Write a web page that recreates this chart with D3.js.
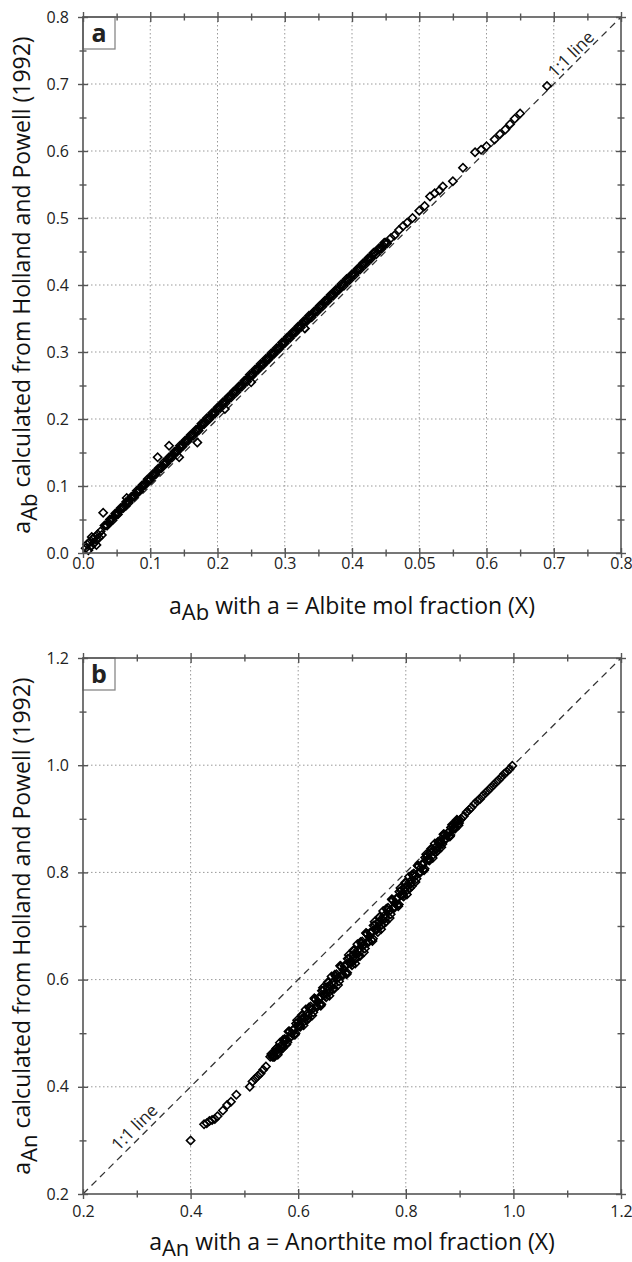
<!DOCTYPE html>
<html>
<head>
<meta charset="utf-8">
<script src="https://cdn.jsdelivr.net/npm/d3@7"></script>
<style>
  body { margin: 0; background: #fff; }
  text { font-family: 'Open Sans', sans-serif; }
</style>
</head>
<body>
<script>

var width  = 632;
var height = 1262;

// ---- panel a data ----
var majorA   = [0, 0.1, 0.2, 0.3, 0.4, 0.5, 0.6, 0.7, 0.8];
var minorA   = [0.05, 0.15, 0.25, 0.35, 0.45, 0.55, 0.65, 0.75];
var xLabelsA = ['0.0', '0.1', '0.2', '0.3', '0.4', '0.05', '0.6', '0.7', '0.8'];
var yLabelsA = ['0.0', '0.1', '0.2', '0.3', '0.4', '0.5', '0.6', '0.7', '0.8'];

var pointsA = [
  [0.004,0.007],[0.006,0.013],[0.008,0.004],[0.010,0.016],[0.012,0.010],[0.013,0.024],
  [0.014,0.021],[0.016,0.014],[0.018,0.024],[0.020,0.019],[0.020,0.012],[0.022,0.028],
  [0.024,0.023],[0.026,0.032],[0.028,0.027],[0.030,0.060],
  [0.032,0.041],[0.036,0.041],[0.040,0.050],[0.044,0.049],[0.048,0.059],[0.052,0.058],
  [0.056,0.067],[0.060,0.067],[0.064,0.076],[0.068,0.075],[0.072,0.084],[0.076,0.084],
  [0.080,0.093],[0.084,0.092],[0.088,0.101],[0.092,0.101],[0.096,0.110],[0.100,0.109],
  [0.104,0.118],[0.108,0.117],[0.112,0.126],[0.116,0.126],[0.120,0.135],[0.124,0.134],
  [0.128,0.143],[0.132,0.142],[0.136,0.151],[0.140,0.151],[0.144,0.160],[0.148,0.159],
  [0.152,0.168],[0.156,0.167],[0.160,0.176],[0.164,0.175],[0.168,0.184],[0.172,0.183],
  [0.176,0.193],[0.180,0.192],[0.184,0.201],[0.188,0.200],[0.192,0.209],[0.196,0.208],
  [0.200,0.217],[0.204,0.216],[0.208,0.225],[0.212,0.224],[0.216,0.233],[0.220,0.232],
  [0.224,0.241],[0.228,0.240],[0.232,0.249],[0.236,0.248],[0.240,0.257],[0.244,0.256],
  [0.248,0.266],[0.252,0.265],[0.256,0.274],[0.260,0.273],[0.264,0.282],[0.268,0.281],
  [0.272,0.290],[0.276,0.289],[0.280,0.298],[0.284,0.297],[0.288,0.306],[0.292,0.305],
  [0.296,0.314],[0.300,0.313],[0.304,0.322],[0.308,0.321],[0.312,0.330],[0.316,0.329],
  [0.320,0.338],[0.324,0.337],[0.328,0.346],[0.332,0.345],[0.336,0.354],[0.340,0.352],
  [0.344,0.361],[0.348,0.360],[0.352,0.369],[0.356,0.368],[0.360,0.377],[0.364,0.376],
  [0.368,0.385],[0.372,0.384],[0.376,0.393],[0.380,0.392],[0.384,0.401],[0.388,0.399],
  [0.392,0.409],[0.396,0.407],[0.400,0.416],[0.404,0.415],[0.408,0.424],[0.412,0.423],
  [0.416,0.432],[0.420,0.431],[0.424,0.440],[0.428,0.439],[0.432,0.448],[0.436,0.446],
  [0.440,0.455],[0.444,0.454],[0.448,0.463],[0.452,0.462],
  [0.034,0.041],[0.038,0.045],[0.042,0.050],[0.046,0.054],[0.050,0.059],[0.054,0.063],
  [0.058,0.067],[0.062,0.071],[0.066,0.076],[0.070,0.080],[0.074,0.084],[0.078,0.088],
  [0.082,0.092],[0.086,0.097],[0.090,0.101],[0.094,0.105],[0.098,0.109],[0.102,0.114],
  [0.106,0.118],[0.110,0.122],[0.114,0.126],[0.118,0.130],[0.122,0.134],[0.126,0.139],
  [0.130,0.143],[0.134,0.147],[0.138,0.151],[0.142,0.155],[0.146,0.159],[0.150,0.164],
  [0.154,0.168],[0.158,0.172],[0.162,0.176],[0.166,0.180],[0.170,0.184],[0.174,0.188],
  [0.178,0.192],[0.182,0.196],[0.186,0.200],[0.190,0.204],[0.194,0.208],[0.198,0.213],
  [0.202,0.217],[0.206,0.221],[0.210,0.225],[0.214,0.229],[0.218,0.233],[0.222,0.237],
  [0.226,0.241],[0.230,0.245],[0.234,0.249],[0.238,0.253],[0.242,0.257],[0.246,0.261],
  [0.250,0.265],[0.254,0.269],[0.258,0.273],[0.262,0.277],[0.266,0.281],[0.270,0.285],
  [0.274,0.289],[0.278,0.293],[0.282,0.297],[0.286,0.301],[0.290,0.305],[0.294,0.309],
  [0.298,0.313],[0.302,0.318],[0.306,0.322],[0.310,0.326],[0.314,0.330],[0.318,0.334],
  [0.322,0.338],[0.326,0.342],[0.330,0.346],[0.334,0.349],[0.338,0.353],[0.342,0.357],
  [0.346,0.361],[0.350,0.365],[0.354,0.369],[0.358,0.373],[0.362,0.377],[0.366,0.381],
  [0.370,0.385],[0.374,0.389],[0.378,0.392],[0.382,0.396],[0.386,0.400],[0.390,0.404],
  [0.394,0.408],[0.398,0.412],[0.402,0.416],[0.406,0.420],[0.410,0.424],[0.414,0.428],
  [0.418,0.432],[0.422,0.436],[0.426,0.440],[0.430,0.444],[0.434,0.448],[0.438,0.452],
  [0.442,0.455],[0.446,0.459],[0.450,0.463],
  [0.065,0.082],[0.111,0.143],[0.128,0.160],[0.143,0.143],[0.170,0.165],[0.211,0.215],
  [0.250,0.255],[0.330,0.335],
  [0.458,0.470],[0.463,0.474],[0.470,0.482],[0.476,0.488],[0.482,0.493],[0.490,0.500],
  [0.500,0.511],[0.508,0.518],[0.516,0.532],[0.523,0.537],[0.530,0.541],[0.535,0.547],
  [0.550,0.555],[0.565,0.575],[0.583,0.598],[0.592,0.602],[0.600,0.607],[0.612,0.617],
  [0.620,0.625],[0.628,0.632],[0.635,0.640],[0.642,0.648],[0.650,0.656],[0.690,0.697]
];

// ---- panel b data ----
var majorB  = [0.2, 0.4, 0.6, 0.8, 1.0, 1.2];
var minorB  = [0.3, 0.5, 0.7, 0.9, 1.1];
var labelsB = ['0.2', '0.4', '0.6', '0.8', '1.0', '1.2'];

var pointsB = [
  [0.400,0.300],[0.425,0.330],[0.430,0.332],[0.435,0.336],[0.440,0.338],[0.445,0.340],
  [0.450,0.345],[0.460,0.356],[0.468,0.366],[0.475,0.372],[0.485,0.385],[0.510,0.400],
  [0.515,0.410],[0.520,0.415],[0.525,0.420],[0.530,0.425],[0.535,0.432],[0.540,0.438],
  [0.548,0.456],[0.552,0.456],[0.556,0.456],[0.560,0.472],[0.564,0.471],[0.568,0.469],
  [0.572,0.488],[0.576,0.485],[0.580,0.483],[0.584,0.503],[0.588,0.500],[0.592,0.497],
  [0.596,0.518],[0.600,0.515],[0.604,0.512],[0.608,0.533],[0.612,0.529],[0.616,0.525],
  [0.620,0.548],[0.624,0.544],[0.628,0.539],[0.632,0.563],[0.636,0.558],[0.640,0.553],
  [0.644,0.579],[0.648,0.573],[0.652,0.567],[0.656,0.594],[0.660,0.588],[0.664,0.582],
  [0.668,0.609],[0.672,0.603],[0.676,0.597],[0.680,0.624],[0.684,0.618],[0.688,0.612],
  [0.692,0.639],[0.696,0.633],[0.700,0.627],[0.704,0.654],[0.708,0.648],[0.712,0.643],
  [0.716,0.670],[0.720,0.664],[0.724,0.658],[0.728,0.685],[0.732,0.680],[0.736,0.674],
  [0.740,0.701],[0.744,0.695],[0.748,0.689],[0.752,0.717],[0.756,0.711],[0.760,0.705],
  [0.764,0.732],[0.768,0.727],[0.772,0.722],[0.776,0.748],[0.780,0.743],[0.784,0.739],
  [0.788,0.764],[0.792,0.759],[0.796,0.755],[0.800,0.780],[0.804,0.775],[0.808,0.771],
  [0.812,0.796],[0.816,0.792],[0.820,0.788],[0.824,0.812],[0.828,0.808],[0.832,0.805],
  [0.836,0.828],[0.840,0.824],[0.844,0.822],[0.848,0.843],[0.852,0.840],[0.856,0.838],
  [0.860,0.857],[0.864,0.855],[0.868,0.853],[0.872,0.870],[0.876,0.869],[0.880,0.867],
  [0.884,0.884],[0.888,0.883],[0.892,0.882],[0.896,0.897],[0.900,0.897],
  [0.550,0.461],[0.554,0.456],[0.558,0.466],[0.562,0.460],[0.566,0.482],[0.570,0.475],
  [0.574,0.486],[0.578,0.479],[0.582,0.503],[0.586,0.494],[0.590,0.506],[0.594,0.497],
  [0.598,0.524],[0.602,0.513],[0.606,0.526],[0.610,0.515],[0.614,0.544],[0.618,0.532],
  [0.622,0.546],[0.626,0.533],[0.630,0.565],[0.634,0.551],[0.638,0.566],[0.642,0.551],
  [0.646,0.585],[0.650,0.570],[0.654,0.586],[0.658,0.570],[0.662,0.606],[0.666,0.590],
  [0.670,0.606],[0.674,0.590],[0.678,0.626],[0.682,0.610],[0.686,0.626],[0.690,0.610],
  [0.694,0.646],[0.698,0.630],[0.702,0.646],[0.706,0.630],[0.710,0.666],[0.714,0.651],
  [0.718,0.667],[0.722,0.651],[0.726,0.687],[0.730,0.672],[0.734,0.688],[0.738,0.672],
  [0.742,0.708],[0.746,0.693],[0.750,0.708],[0.754,0.694],[0.758,0.728],[0.762,0.714],
  [0.766,0.730],[0.770,0.715],[0.774,0.750],[0.778,0.736],[0.782,0.751],[0.786,0.737],
  [0.790,0.771],[0.794,0.757],[0.798,0.772],[0.802,0.759],[0.806,0.792],[0.810,0.779],
  [0.814,0.794],[0.818,0.782],[0.822,0.813],[0.826,0.801],[0.830,0.815],[0.834,0.804],
  [0.838,0.834],[0.842,0.823],[0.846,0.837],[0.850,0.827],[0.854,0.854],[0.858,0.844],
  [0.862,0.856],[0.866,0.847],[0.870,0.871],[0.874,0.863],[0.878,0.874],[0.882,0.867],
  [0.886,0.889],[0.890,0.882],[0.894,0.893],[0.898,0.888],
  [0.551,0.459],[0.555,0.459],[0.559,0.471],[0.563,0.465],[0.567,0.476],[0.571,0.472],
  [0.575,0.489],[0.579,0.488],[0.583,0.503],[0.587,0.494],[0.591,0.506],[0.595,0.500],
  [0.599,0.520],[0.603,0.517],[0.607,0.534],[0.611,0.522],[0.615,0.535],[0.619,0.527],
  [0.623,0.550],[0.627,0.545],[0.631,0.564],[0.635,0.549],[0.639,0.564],[0.643,0.554],
  [0.647,0.580],[0.651,0.574],[0.655,0.595],[0.659,0.578],[0.663,0.594],[0.667,0.583],
  [0.671,0.610],[0.675,0.604],[0.679,0.625],[0.683,0.608],[0.687,0.624],[0.691,0.613],
  [0.695,0.640],[0.699,0.634],[0.703,0.655],[0.707,0.639],[0.711,0.655],[0.715,0.644],
  [0.719,0.671],[0.723,0.665],[0.727,0.686],[0.731,0.670],[0.735,0.686],[0.739,0.676],
  [0.743,0.702],[0.747,0.696],[0.751,0.717],[0.755,0.702],[0.759,0.718],[0.763,0.708],
  [0.767,0.734],[0.771,0.729],[0.775,0.749],[0.779,0.734],[0.783,0.750],[0.787,0.740],
  [0.791,0.766],[0.795,0.761],[0.799,0.781],[0.803,0.767],[0.807,0.782],[0.811,0.774],
  [0.815,0.798],[0.819,0.794],[0.823,0.812],[0.827,0.800],[0.831,0.814],[0.835,0.807],
  [0.839,0.829],[0.843,0.826],[0.847,0.844],[0.851,0.833],[0.855,0.846],[0.859,0.840],
  [0.863,0.859],[0.867,0.856],[0.871,0.871],[0.875,0.863],[0.879,0.874],[0.883,0.870],
  [0.887,0.886],[0.891,0.885],[0.895,0.898],[0.899,0.892],
  [0.903,0.900],[0.908,0.905],[0.913,0.912],[0.918,0.917],[0.922,0.921],[0.928,0.928],
  [0.933,0.933],[0.938,0.937],[0.943,0.943],[0.948,0.948],[0.953,0.953],[0.958,0.958],
  [0.963,0.963],[0.968,0.968],[0.973,0.973],[0.978,0.978],[0.983,0.984],[0.988,0.988],
  [0.993,0.993],[0.998,0.999]
];

var svg = d3.select('body')
            .append('svg')
            .attr('width', width)
            .attr('height', height);

function drawPanel(p) {
  var x = d3.scaleLinear().domain(p.domain).range([p.left, p.right]);
  var y = d3.scaleLinear().domain(p.domain).range([p.bottom, p.top]);
  var g = svg.append('g');
  var inner = p.major.slice(1, -1);

  // dotted grid
  g.selectAll('line.gx').data(inner).enter().append('line')
   .attr('x1', function(d){ return x(d); }).attr('x2', function(d){ return x(d); })
   .attr('y1', p.top).attr('y2', p.bottom)
   .attr('stroke', '#999').attr('stroke-width', 1).attr('stroke-dasharray', '1.5,2.5');
  g.selectAll('line.gy').data(inner).enter().append('line')
   .attr('y1', function(d){ return y(d); }).attr('y2', function(d){ return y(d); })
   .attr('x1', p.left).attr('x2', p.right)
   .attr('stroke', '#999').attr('stroke-width', 1).attr('stroke-dasharray', '1.5,2.5');

  // 1:1 line
  g.append('line')
   .attr('x1', x(p.domain[0])).attr('y1', y(p.domain[0]))
   .attr('x2', x(p.domain[1])).attr('y2', y(p.domain[1]))
   .attr('stroke', '#333').attr('stroke-width', 1.3).attr('stroke-dasharray', '7,5');

  var lx = x(p.oneAt), ly = y(p.oneAt);
  g.append('text')
   .attr('transform', 'translate(' + lx + ',' + ly + ') rotate(-45)')
   .attr('text-anchor', 'middle')
   .attr('dy', p.oneDy)
   .attr('font-size', 17)
   .attr('fill', '#222')
   .text('1:1 line');

  // data points
  var sym = d3.symbol(d3.symbolSquare, 34);
  g.selectAll('path.pt').data(p.points).enter().append('path')
   .attr('d', sym)
   .attr('transform', function(d){ return 'translate(' + x(d[0]) + ',' + y(d[1]) + ') rotate(45)'; })
   .attr('fill', 'none')
   .attr('stroke', '#000')
   .attr('stroke-width', 1.6);

  // panel tag box
  g.append('rect')
   .attr('x', p.left).attr('y', p.top).attr('width', 32).attr('height', 32)
   .attr('fill', '#fff').attr('stroke', '#888').attr('stroke-width', 1.3);
  g.append('text')
   .attr('x', p.left + 16).attr('y', p.top + 25)
   .attr('text-anchor', 'middle')
   .attr('font-family', 'Liberation Sans, Arial, sans-serif')
   .attr('font-weight', 'bold')
   .attr('font-size', 25)
   .attr('fill', '#222')
   .text(p.tag);

  // frame
  g.append('rect')
   .attr('x', p.left).attr('y', p.top)
   .attr('width', p.right - p.left).attr('height', p.bottom - p.top)
   .attr('fill', 'none').attr('stroke', '#555').attr('stroke-width', 1.6);

  // ticks crossing the frame on all four sides
  var sides = [
    [d3.axisBottom, x, 0, p.bottom],
    [d3.axisTop,    x, 0, p.top],
    [d3.axisLeft,   y, p.left, 0],
    [d3.axisRight,  y, p.right, 0]
  ];
  sides.forEach(function(s) {
    [[p.major, 5], [p.major, -5], [p.minor, 3.5], [p.minor, -3.5]].forEach(function(t) {
      var a = g.append('g')
               .attr('transform', 'translate(' + s[2] + ',' + s[3] + ')')
               .call(s[0](s[1]).tickValues(t[0]).tickSize(t[1]).tickSizeOuter(0).tickFormat(''));
      a.select('.domain').remove();
      a.selectAll('line').attr('stroke', '#555').attr('stroke-width', 1.4);
    });
  });

  // tick labels
  var bx = g.append('g')
            .attr('transform', 'translate(0,' + p.bottom + ')')
            .call(d3.axisBottom(x).tickValues(p.major).tickSize(0).tickPadding(p.xPad)
                  .tickFormat(function(d, i){ return p.xLabels[i]; }));
  bx.select('.domain').remove();
  bx.selectAll('text').attr('font-size', 16).attr('font-family', 'Open Sans, sans-serif').attr('fill', '#222');

  var ly2 = g.append('g')
             .attr('transform', 'translate(' + p.left + ',0)')
             .call(d3.axisLeft(y).tickValues(p.major).tickSize(0).tickPadding(14)
                   .tickFormat(function(d, i){ return p.yLabels[i]; }));
  ly2.select('.domain').remove();
  ly2.selectAll('text').attr('font-size', 16).attr('font-family', 'Open Sans, sans-serif').attr('fill', '#222');

  // axis titles
  var xt = g.append('text')
            .attr('x', (p.left + p.right) / 2)
            .attr('y', p.xTitleY)
            .attr('text-anchor', 'middle')
            .attr('font-size', 23)
            .attr('fill', '#111');
  xt.append('tspan').text('a');
  xt.append('tspan').attr('dy', 6).attr('font-size', 22).text(p.sub);
  xt.append('tspan').attr('dy', -6).text(' with a = ' + p.mineral + ' mol fraction (X)');

  var yt = g.append('text')
            .attr('transform', 'translate(30,' + (p.top + p.bottom) / 2 + ') rotate(-90)')
            .attr('text-anchor', 'middle')
            .attr('font-size', 23)
            .attr('fill', '#111');
  yt.append('tspan').text('a');
  yt.append('tspan').attr('dy', 7).attr('font-size', 22).text(p.sub);
  yt.append('tspan').attr('dy', -7).text(' calculated from Holland and Powell (1992)');
}

drawPanel({
  left: 83, right: 621, top: 17, bottom: 553,
  domain: [0, 0.8], major: majorA, minor: minorA,
  xLabels: xLabelsA, yLabels: yLabelsA, points: pointsA,
  tag: 'a', sub: 'Ab', mineral: 'Albite',
  oneAt: 0.735, oneDy: -3, xPad: 5, xTitleY: 614
});

drawPanel({
  left: 83, right: 621, top: 658, bottom: 1194,
  domain: [0.2, 1.2], major: majorB, minor: minorB,
  xLabels: labelsB, yLabels: labelsB, points: pointsB,
  tag: 'b', sub: 'An', mineral: 'Anorthite',
  oneAt: 0.31, oneDy: -5, xPad: 12, xTitleY: 1250
});

</script>
</body>
</html>
